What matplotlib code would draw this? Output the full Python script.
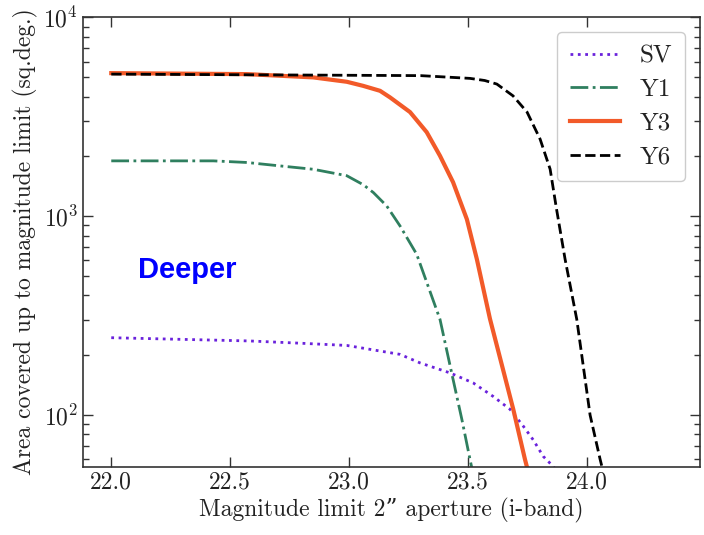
import matplotlib
matplotlib.use("Agg")
import matplotlib.pyplot as plt
from matplotlib.ticker import LogLocator, LogFormatterMathtext, NullFormatter

# magnitude limit (i-band) and area covered (sq.deg.)
sv_mag = [22.0, 22.58, 22.79, 22.99, 23.214, 23.298, 23.424, 23.522, 23.606,
          23.676, 23.732, 23.774, 23.816, 23.859, 23.88]
sv_area = [245, 236, 230, 224, 202, 183, 163, 145, 124, 107, 88, 75, 62, 55, 50]

y1_mag = [22.0, 22.429, 22.57, 22.71, 22.849, 22.99, 23.06, 23.102, 23.158,
          23.214, 23.284, 23.382, 23.431, 23.474, 23.508, 23.53]
y1_area = [1900, 1900, 1865, 1792, 1724, 1600, 1440, 1316, 1127, 894, 644,
           303, 163, 95, 60, 45]

y3_mag = [22.0, 22.57, 22.849, 22.92, 22.99, 23.059, 23.13, 23.172, 23.256,
          23.326, 23.382, 23.437, 23.495, 23.537, 23.592, 23.69, 23.739, 23.76]
y3_area = [5250, 5190, 4997, 4870, 4750, 4530, 4277, 3963, 3343, 2650, 2014,
           1483, 966, 608, 305, 107, 60, 48]

y6_mag = [22.0, 23.3, 23.508, 23.57, 23.621, 23.689, 23.748, 23.803, 23.845,
          23.872, 23.908, 23.957, 24.013, 24.055, 24.075]
y6_area = [5190, 5100, 4940, 4820, 4625, 4035, 3343, 2442, 1726, 1085, 607,
           303, 100, 60, 48]

plt.rcParams['font.family'] = ['cmr10', 'DejaVu Serif']
plt.rcParams['mathtext.fontset'] = 'cm'
plt.rcParams['axes.formatter.use_mathtext'] = True

fig = plt.figure(figsize=(7.04, 5.35), dpi=100)
ax = fig.add_axes([0.1175, 0.1277, 0.8768, 0.8396])

ax.plot(sv_mag, sv_area, ls=':', lw=2, color='#6a22dc', label='SV')
ax.plot(y1_mag, y1_area, ls='-.', lw=2, color='#2f7f5f', label='Y1')
ax.plot(y3_mag, y3_area, ls='-', lw=3, color='#f25a29', label='Y3')
ax.plot(y6_mag, y6_area, ls='--', lw=2, color='black', label='Y6')

ax.set_yscale('log')
ax.set_xlim(21.88, 24.475)
ax.set_ylim(55, 1e4)
ax.set_xticks([22.0, 22.5, 23.0, 23.5, 24.0])
ax.set_xticklabels(['22.0', '22.5', '23.0', '23.5', '24.0'])
ax.yaxis.set_major_locator(LogLocator(base=10))
ax.yaxis.set_major_formatter(LogFormatterMathtext())
ax.yaxis.set_minor_locator(LogLocator(base=10, subs=range(2, 10)))
ax.yaxis.set_minor_formatter(NullFormatter())

ax.tick_params(which='both', direction='in', top=True, right=True, labelsize=17,
               color='#333333', labelcolor='#222222')
ax.tick_params(which='major', length=7, width=1)
ax.tick_params(which='minor', length=4, width=1)
for s in ax.spines.values():
    s.set_color('#333333')
    s.set_linewidth(1.2)

ax.set_xlabel('Magnitude limit 2\u201d aperture (i-band)', fontsize=17,
              labelpad=3, color='#222222')
ax.set_ylabel('Area covered up to magnitude limit (sq.deg.)', fontsize=17,
              labelpad=4, color='#222222')

ax.text(0.0896, 0.42, 'Deeper', transform=ax.transAxes, color='#0000ff',
        fontsize=21, fontweight='bold', family=['Liberation Sans', 'DejaVu Sans'],
        va='baseline', ha='left')

leg = ax.legend(loc='upper right', fontsize=18, handlelength=2.0,
                labelspacing=0.45, borderaxespad=0.6, fancybox=True,
                framealpha=1, handletextpad=0.8, borderpad=0.5)
leg.get_frame().set_edgecolor('#cccccc')
for t in leg.get_texts():
    t.set_color('#222222')

fig.savefig('out.png', dpi=100)
